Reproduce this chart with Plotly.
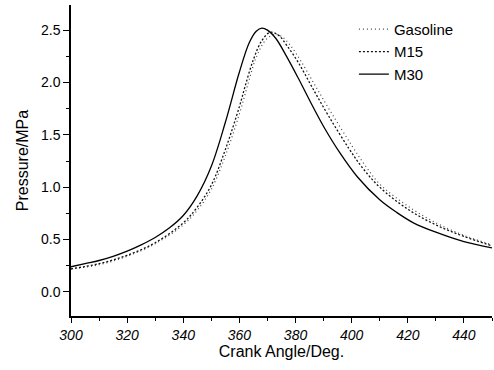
import plotly.graph_objects as go

# Crank angle (deg) and pressure (MPa)
theta_gas = [300, 310, 320, 330, 340, 345, 350, 355, 360, 363, 366, 369.5, 372.5, 375, 378,
             382, 387, 393, 400, 405, 410, 420, 430, 440, 450]
p_gas = [0.22, 0.26, 0.34, 0.46, 0.64, 0.78, 0.98, 1.30, 1.70, 1.98, 2.24, 2.41, 2.46, 2.44, 2.36,
         2.20, 1.97, 1.70, 1.40, 1.20, 1.03, 0.82, 0.66, 0.54, 0.45]

theta_m15 = [300, 310, 320, 330, 340, 345, 350, 355, 360, 362, 365, 368, 371, 374, 377,
             381, 386, 392, 399, 404, 410, 420, 430, 440, 450]
p_m15 = [0.22, 0.27, 0.35, 0.47, 0.66, 0.81, 1.02, 1.36, 1.77, 1.96, 2.22, 2.40, 2.48, 2.45, 2.35,
         2.19, 1.95, 1.67, 1.37, 1.18, 1.00, 0.79, 0.64, 0.53, 0.44]

theta_m30 = [300, 305, 310, 315, 320, 325, 330, 335, 340, 345, 350, 355, 360, 363.5,
             366, 368, 370, 373, 377, 381, 385, 390, 396, 402, 410, 416, 422, 430, 440, 450]
p_m30 = [0.24, 0.27, 0.30, 0.34, 0.39, 0.45, 0.52, 0.61, 0.73, 0.92, 1.20, 1.62, 2.10, 2.38,
         2.49, 2.52, 2.50, 2.42, 2.24, 2.04, 1.83, 1.58, 1.32, 1.10, 0.88, 0.76, 0.66, 0.57, 0.48, 0.42]

series_names = ["Gasoline", "M15", "M30"]

FONT = "Liberation Sans, Arial, sans-serif"

fig = go.Figure()
fig.add_trace(go.Scatter(x=theta_gas, y=p_gas, name=series_names[0], mode="lines",
                         line=dict(color="#444444", width=1.2, dash="1px,3px", shape="spline", smoothing=1.0)))
fig.add_trace(go.Scatter(x=theta_m15, y=p_m15, name=series_names[1], mode="lines",
                         line=dict(color="#111111", width=1.3, dash="2px,2px", shape="spline", smoothing=1.0)))
fig.add_trace(go.Scatter(x=theta_m30, y=p_m30, name=series_names[2], mode="lines",
                         line=dict(color="#000000", width=1.3, shape="spline", smoothing=1.0)))

fig.update_layout(
    width=494, height=370,
    margin=dict(l=71, r=2, t=5, b=54),
    paper_bgcolor="white", plot_bgcolor="white",
    font=dict(family=FONT, color="black", size=14),
    showlegend=True,
    legend=dict(x=0.672, y=0.975, xanchor="left", yanchor="top",
                font=dict(family=FONT, size=15, color="black"),
                bgcolor="rgba(0,0,0,0)", tracegroupgap=0),
)
fig.update_xaxes(
    range=[300, 450], showline=True, linecolor="black", linewidth=1.5,
    showgrid=False, zeroline=False,
    tickmode="linear", tick0=300, dtick=20,
    ticks="outside", ticklen=5, tickwidth=1, tickcolor="black",
    minor=dict(ticks="outside", ticklen=3, dtick=10, tick0=300, tickcolor="black", showgrid=False),
    tickfont=dict(family=FONT, size=14, style="italic"),
    title=dict(text="Crank Angle/Deg.", font=dict(family=FONT, size=16), standoff=0),
)
fig.update_yaxes(
    range=[-0.23, 2.74], showline=True, linecolor="black", linewidth=1.5,
    showgrid=False, zeroline=False,
    tickmode="linear", tick0=0, dtick=0.5, tickformat=".1f",
    ticks="outside", ticklen=6, tickwidth=1, tickcolor="black",
    minor=dict(ticks="outside", ticklen=3, dtick=0.25, tick0=0, tickcolor="black", showgrid=False),
    tickfont=dict(family=FONT, size=14),
    title=dict(text="Pressure/MPa", font=dict(family=FONT, size=16), standoff=8),
)

fig.write_html("out.html")
